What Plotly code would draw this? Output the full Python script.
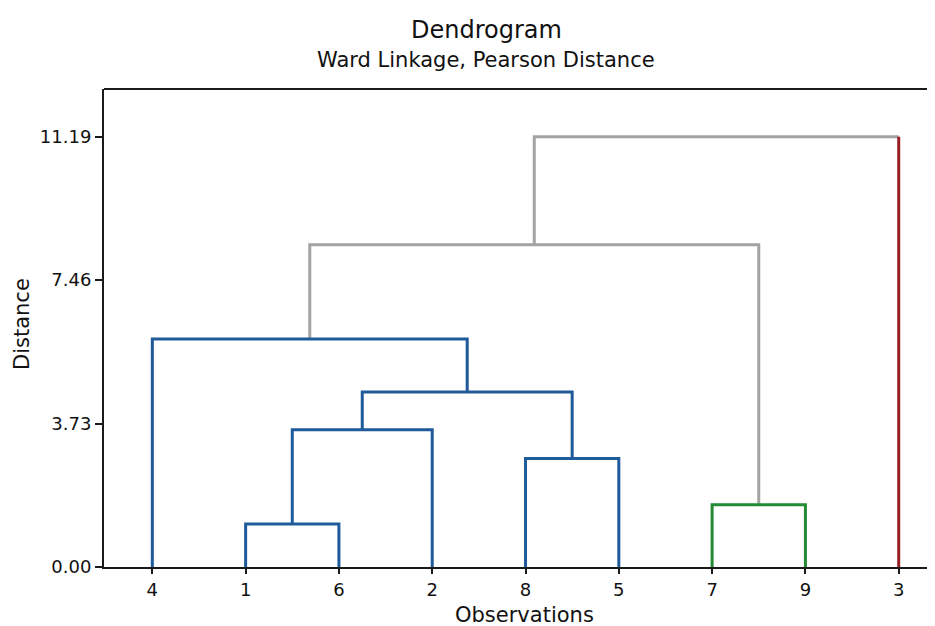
import plotly.graph_objects as go

# ---- data ----
leaf_labels = ["4", "1", "6", "2", "8", "5", "7", "9", "3"]
# merges (scipy-like): leaf indices 0..8 are positions, new clusters numbered 9..
merge_left = [1, 4, 6, 9, 12, 0, 14, 15]
merge_right = [2, 5, 7, 3, 10, 13, 11, 8]
merge_height = [1.12, 2.82, 1.62, 3.57, 4.55, 5.93, 8.38, 11.19]
merge_color = ["blue", "blue", "green", "blue", "blue", "blue", "gray", "gray"]
leaf_color_override = {"3": "red"}
ytick_vals = [0.00, 3.73, 7.46, 11.19]
ytick_text = ["0.00", "3.73", "7.46", "11.19"]

palette = {"blue": "#1f5a9a", "green": "#238a35", "gray": "#a3a3a3", "red": "#9a1f24"}

n = len(leaf_labels)
xpos = {i: i + 1 for i in range(n)}
ypos = {i: 0.0 for i in range(n)}

segs = {k: ([], []) for k in palette}
for k, (a, b, h, c) in enumerate(zip(merge_left, merge_right, merge_height, merge_color)):
    xa, xb = xpos[a], xpos[b]
    ya, yb = ypos[a], ypos[b]
    ca = leaf_color_override.get(leaf_labels[a], c) if a < n else c
    cb = leaf_color_override.get(leaf_labels[b], c) if b < n else c
    xs, ys = segs[c]
    if ca == c and cb == c:
        xs += [xa, xa, xb, xb, None]
        ys += [ya, h, h, yb, None]
    else:
        if ca == c:
            xs += [xa, xa, xb, None]
            ys += [ya, h, h, None]
        else:
            xs += [xa, xb, None]
            ys += [h, h, None]
            segs[ca][0].extend([xa, xa, None]); segs[ca][1].extend([ya, h, None])
        if cb != c:
            segs[cb][0].extend([xb, xb, None]); segs[cb][1].extend([yb, h, None])
        else:
            xs += [xb, xb, None]
            ys += [h, yb, None]
    new = n + k
    xpos[new] = (xa + xb) / 2
    ypos[new] = h

fig = go.Figure()
for cname in ["gray", "blue", "green", "red"]:
    xs, ys = segs[cname]
    if xs:
        fig.add_trace(go.Scatter(x=xs, y=ys, mode="lines",
                                 line=dict(color=palette[cname], width=3),
                                 hoverinfo="skip", showlegend=False, connectgaps=False))

FONT = "DejaVu Sans"
# page has an 8px body margin; layout values are in figure pixels (page - 8)
L, T, PW, PH = 96, 81, 831, 478


def px_x(fx):
    return (fx - L) / PW


def px_y(fy):
    return 1 - (fy - T) / PH


fig.update_layout(
    width=935, height=626,
    margin=dict(l=L, r=935 - L - PW, t=T, b=626 - T - PH),
    paper_bgcolor="white", plot_bgcolor="white",
    font=dict(family=FONT, color="#111111"),
    showlegend=False,
    xaxis=dict(range=[0.482, 9.389], tickmode="array",
               tickvals=list(range(1, n + 1)), ticktext=leaf_labels,
               showgrid=False, zeroline=False, showline=True, linecolor="#1a1a1a",
               linewidth=2, ticks="outside", ticklen=5, tickwidth=1.5, tickcolor="#1a1a1a",
               tickfont=dict(size=18, family=FONT)),
    yaxis=dict(range=[0, 12.43], tickmode="array", tickvals=ytick_vals, ticktext=ytick_text,
               showgrid=False, zeroline=False, showline=True, linecolor="#1a1a1a",
               linewidth=2, ticks="outside", ticklen=7, tickwidth=1.5, tickcolor="#1a1a1a",
               tickfont=dict(size=18, family=FONT)),
    shapes=[dict(type="line", xref="paper", yref="paper", x0=0, x1=1.02, y0=1, y1=1,
                 line=dict(color="#1a1a1a", width=2))],
    annotations=[
        dict(text="Dendrogram", xref="paper", yref="paper", x=px_x(478),
             y=px_y(22), xanchor="center", yanchor="middle", showarrow=False,
             font=dict(size=24, family=FONT)),
        dict(text="Ward Linkage, Pearson Distance", xref="paper", yref="paper",
             x=px_x(478), y=px_y(52), xanchor="center", yanchor="middle",
             showarrow=False, font=dict(size=21, family=FONT)),
        dict(text="Observations", xref="paper", yref="paper", x=px_x(516),
             y=px_y(607), xanchor="center", yanchor="middle", showarrow=False,
             font=dict(size=21, family=FONT)),
        dict(text="Distance", xref="paper", yref="paper", x=px_x(14),
             y=px_y(316), xanchor="center", yanchor="middle", textangle=-90,
             showarrow=False, font=dict(size=21, family=FONT)),
    ],
)

fig.write_html("out.html")
